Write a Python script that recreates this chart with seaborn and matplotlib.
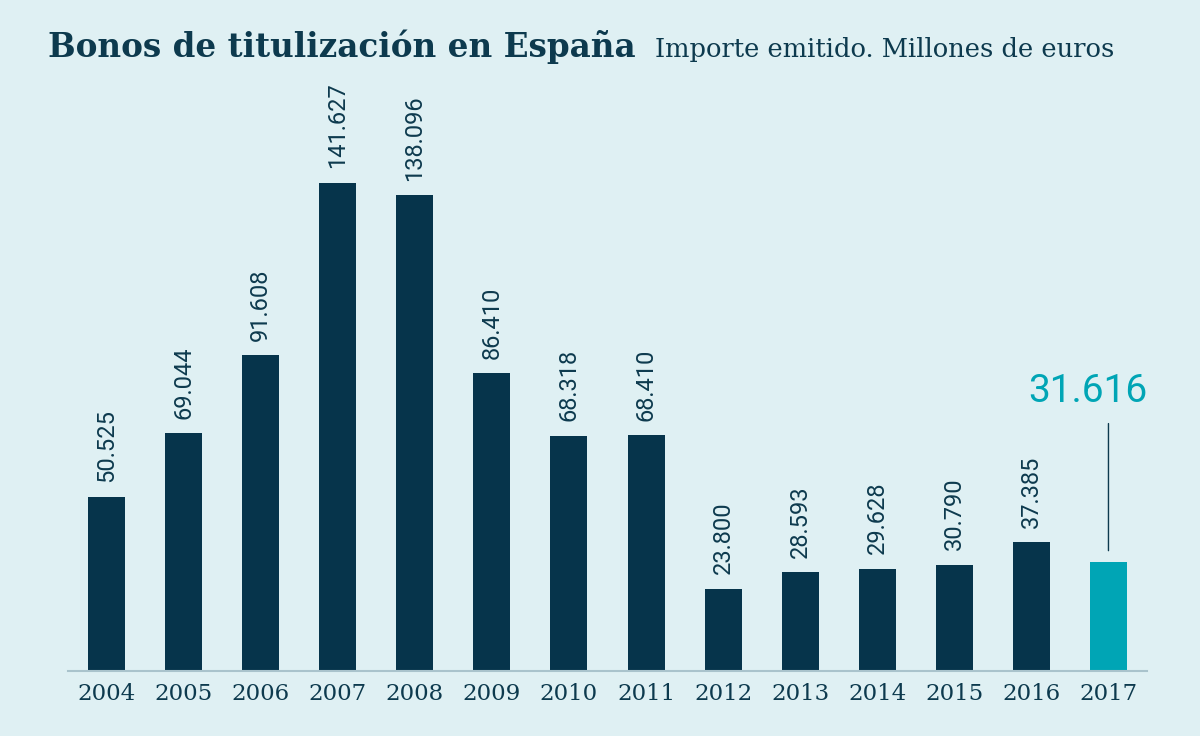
import matplotlib
matplotlib.use("Agg")
import matplotlib.pyplot as plt
import pandas as pd
import seaborn as sns

years = ["2004", "2005", "2006", "2007", "2008", "2009", "2010",
         "2011", "2012", "2013", "2014", "2015", "2016", "2017"]
amounts = [50525, 69044, 91608, 141627, 138096, 86410, 68318,
           68410, 23800, 28593, 29628, 30790, 37385, 31616]
labels = ["50.525", "69.044", "91.608", "141.627", "138.096", "86.410", "68.318",
          "68.410", "23.800", "28.593", "29.628", "30.790", "37.385", "31.616"]

BG = "#dff0f3"
DARK = "#06344b"
TEAL = "#00a5b5"
TEXT = "#0d3a4e"

df = pd.DataFrame({"year": years, "amount": amounts})
palette = {y: DARK for y in years}
palette["2017"] = TEAL

sns.set_theme(style="white")
plt.rcParams["font.family"] = ["DejaVu Serif"]

fig = plt.figure(figsize=(12, 7.36), dpi=100, facecolor=BG)
ax = fig.add_axes([68 / 1200, 65 / 736, (1147 - 68) / 1200, (671 - 100) / 736])
ax.set_facecolor(BG)

sns.barplot(data=df, x="year", y="amount", hue="year", palette=palette,
            order=years, legend=False, width=0.48, saturation=1,
            linewidth=0, edgecolor="none", ax=ax)

ax.set_xlim(-0.5, 13.5)
ax.set_ylim(0, 141627 * (671 - 100) / (671 - 183))
ax.set_yticks([])
ax.set_xlabel("")
ax.set_ylabel("")
for s in ["top", "right", "left"]:
    ax.spines[s].set_visible(False)
ax.spines["bottom"].set_color("#a9c3cc")
ax.spines["bottom"].set_linewidth(1.5)
ax.tick_params(axis="x", length=0, pad=9, labelsize=16.5, labelcolor=TEXT)

for i, (v, lab) in enumerate(zip(amounts, labels)):
    if i == len(amounts) - 1:
        continue
    ax.annotate(lab, (i, v), xytext=(0, 10.5), textcoords="offset points",
                rotation=90, ha="center", va="bottom", fontsize=17,
                color=TEXT, family=["Roboto", "DejaVu Sans"])

# highlighted last value with leader line
last = len(amounts) - 1
ax.annotate("", xy=(last, amounts[last] + 2500), xytext=(last, amounts[last] + 41000),
            arrowprops=dict(arrowstyle="-", color=TEXT, lw=1))
ax.annotate(labels[last], (13.5, amounts[last] + 44000), ha="right", va="bottom",
            fontsize=28, color=TEAL, family=["Roboto", "DejaVu Sans"])

fig.text(48 / 1200, 1 - 57 / 736, "Bonos de titulización en España",
         fontsize=23.5, fontweight="bold", color=TEXT, ha="left", va="baseline")
fig.text(655 / 1200, 1 - 57 / 736, "Importe emitido. Millones de euros",
         fontsize=18.5, color=TEXT, ha="left", va="baseline")

fig.savefig("out.png", dpi=100, facecolor=BG)
